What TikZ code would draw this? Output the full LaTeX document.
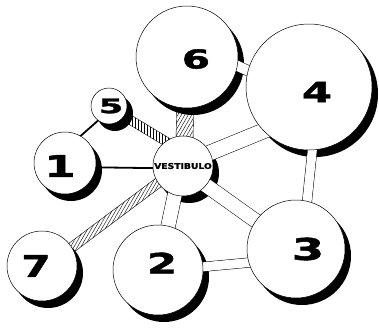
\documentclass[tikz,border=0pt]{standalone}
\usepackage{fontspec}
\usepackage{graphicx}
\usetikzlibrary{calc,patterns.meta}
\newfontfamily\numfont{DejaVu Sans Bold}[FakeBold=1.5]
\pgfdeclarelayer{shadowlayer}
\pgfdeclarelayer{bandlayer}
\pgfsetlayers{shadowlayer,bandlayer,main}
% hatched passage: from, to, half width, hatch angle
\newcommand{\hatchband}[4]{%
  \coordinate (hb1) at ($(#1)!-8pt!(#2)$);
  \coordinate (hb2) at ($(#2)!-8pt!(#1)$);
  \draw[line width=0.4pt, pattern={Lines[angle=#4,distance=3pt,line width=0.4pt]}]
    ($(hb1)!#3!90:(hb2)$) -- ($(hb2)!#3!-90:(hb1)$) --
    ($(hb2)!#3!90:(hb1)$) -- ($(hb1)!#3!-90:(hb2)$) -- cycle;
}
\tikzset{
  room/.style={circle, draw, fill=white, line width=0.5pt, inner sep=0pt},
  wideband/.style={double=white, double distance=#1, line width=0.5pt,
    shorten <=-8pt, shorten >=-8pt},
  door/.style={line width=1.8pt, shorten <=-2pt, shorten >=-2pt},
  num/.style={font=\numfont\fontsize{#1}{#1}\selectfont, inner sep=0pt}
}
\begin{document}
\begin{tikzpicture}[x=1pt,y=-1pt]
  \useasboundingbox (0,0) rectangle (379,327);
  % rooms and their shadows
  \foreach \n/\x/\y/\r in {1/65/163/31, 2/158/270/45, 3/296/249/49, 4/309/87/63,
      5/109/106/18, 6/187/57/51, 7/42/266/35, v/183/166/30}{
    \node[room, minimum size=2*\r pt] (n\n) at (\x,\y) {};
    \begin{pgfonlayer}{shadowlayer}
      \fill ([shift={(6,7)}]n\n.center) circle (\r pt);
    \end{pgfonlayer}
  }
  % room numbers
  \foreach \n/\dx/\dy/\s/\k in {1/-5/3/30/1.5, 2/4/-7/28/1.55, 3/12/0/30/1.55,
      4/8/5/28/1.55, 5/2/0/20/1.75, 6/9/2/26/1.55, 7/-6/0/30/1.4}
    \node[num=\s] (l\n) at ([shift={(\dx,\dy)}]n\n.center) {\scalebox{\k}[1]{\n}};
  \node[num=8] (lv) at (nv) {\scalebox{1.15}[1]{VESTIBULO}};
  % passages
  \begin{pgfonlayer}{bandlayer}
    \draw[door] (n1.60) -- (n5.233);
    \draw[door] (n1.-8) -- (nv.184);
    \hatchband{n5.-34}{nv.125}{4.5pt}{90}
    \hatchband{nv.87}{n6.268}{8.5pt}{60}
    \hatchband{n7.32}{nv.214}{5pt}{60}
    \draw[wideband=10pt] (n6.-10) -- (n4.165);
    \draw[wideband=15pt] (nv.26) -- (n4.224);
    \draw[wideband=14pt] (nv.-40) -- (n3.145);
    \draw[wideband=14pt] (nv.-106) -- (n2.77);
    \draw[wideband=9pt] (n4.-87) -- (n3.77);
    \draw[wideband=9pt] (n2.4) -- (n3.196);
  \end{pgfonlayer}
\end{tikzpicture}
\end{document}
